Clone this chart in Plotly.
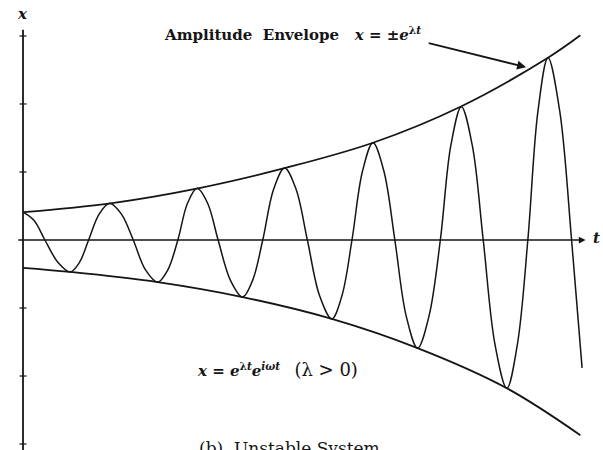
import plotly.graph_objects as go

# ---- data (t in periods, x in tick units) ----
osc_t = [0.00, 0.125, 0.25, 0.40, 0.54, 0.645, 0.75, 0.87, 0.99, 1.125, 1.26, 1.40,
         1.54, 1.655, 1.77, 1.88, 1.99, 2.11, 2.23, 2.37, 2.51, 2.625, 2.74, 2.865,
         2.99, 3.12, 3.25, 3.39, 3.53, 3.645, 3.76, 3.88, 4.00, 4.125, 4.25, 4.38,
         4.51, 4.64, 4.77, 4.89, 5.01, 5.135, 5.26, 5.395, 5.53, 5.65, 5.77, 5.885,
         6.00, 6.135, 6.27, 6.39]
osc_x = [0.41, 0.29, 0.00, -0.33, -0.47, -0.33, 0.00, 0.38, 0.54, 0.38, 0.00, -0.44,
         -0.62, -0.44, 0.00, 0.54, 0.76, 0.54, 0.00, -0.59, -0.84, -0.59, 0.00, 0.75,
         1.06, 0.75, 0.00, -0.82, -1.16, -0.82, 0.00, 1.01, 1.43, 1.01, 0.00, -1.12,
         -1.59, -1.12, 0.00, 1.39, 1.96, 1.39, 0.00, -1.54, -2.18, -1.54, 0.00, 1.89,
         2.68, 1.89, 0.00, -1.88]

env_up_t = [0.00, 1.00, 2.00, 3.00, 4.00, 5.00, 6.00, 6.37]
env_up_x = [0.41, 0.54, 0.76, 1.06, 1.43, 1.96, 2.68, 3.01]
env_lo_t = [0.00, 0.54, 1.54, 2.51, 3.53, 4.51, 5.53, 6.37]
env_lo_x = [-0.41, -0.47, -0.62, -0.84, -1.16, -1.59, -2.18, -2.87]

tick_vals = [-3, -2, -1, 1, 2, 3]

INK = "#151515"
SERIF = "DejaVu Serif"

fig = go.Figure()
fig.add_trace(go.Scatter(x=env_up_t, y=env_up_x, mode="lines",
                         line=dict(color=INK, width=1.8, shape="spline", smoothing=1.0),
                         hoverinfo="skip", showlegend=False))
fig.add_trace(go.Scatter(x=env_lo_t, y=env_lo_x, mode="lines",
                         line=dict(color=INK, width=1.8, shape="spline", smoothing=1.0),
                         hoverinfo="skip", showlegend=False))
fig.add_trace(go.Scatter(x=osc_t, y=osc_x, mode="lines",
                         line=dict(color=INK, width=1.5, shape="spline", smoothing=1.0),
                         hoverinfo="skip", showlegend=False))
# y-axis tick marks
fig.add_trace(go.Scatter(x=[0] * len(tick_vals), y=tick_vals, mode="markers",
                         marker=dict(symbol="line-ew", size=5, line=dict(color=INK, width=1.2)),
                         hoverinfo="skip", showlegend=False))

# axes
fig.add_shape(type="line", x0=0, x1=0, y0=-3.1, y1=3.09, line=dict(color=INK, width=1.8))
fig.add_annotation(x=6.43, y=0, ax=-0.07, ay=0, xref="x", yref="y", axref="x", ayref="y",
                   text="", showarrow=True, arrowhead=2, arrowsize=0.9, arrowwidth=1.5,
                   arrowcolor=INK)

# envelope pointer arrow
fig.add_annotation(x=5.75, y=2.54, ax=4.62, ay=2.90, xref="x", yref="y", axref="x", ayref="y",
                   text="", showarrow=True, arrowhead=2, arrowsize=1.0, arrowwidth=1.8,
                   arrowcolor=INK)

fig.add_annotation(x=-0.01, y=3.32, xref="x", yref="y", showarrow=False,
                   text="<b><i>x</i></b>", font=dict(family=SERIF, size=15, color=INK))
fig.add_annotation(x=6.56, y=0.03, xref="x", yref="y", showarrow=False,
                   text="<b><i>t</i></b>", font=dict(family=SERIF, size=15, color=INK))

NB = "\u00a0"
fig.add_annotation(x=1.59, y=3.03, xref="x", yref="y", xanchor="left", yanchor="middle",
                   showarrow=False,
                   text="<b>Amplitude" + NB * 2 + "Envelope" + NB * 3 +
                        "<i>x</i> = ±<i>e</i><sup>λ<i>t</i></sup></b>",
                   font=dict(family=SERIF, size=15, color=INK))
fig.add_annotation(x=1.966, y=-1.91, xref="x", yref="y", xanchor="left", yanchor="middle",
                   showarrow=False,
                   text="<b><i>x</i> = <i>e</i><sup>λ<i>t</i></sup><i>e</i><sup><i>iωt</i></sup></b>"
                        + NB * 3 + "<span style='font-size:18px'>(λ > 0)</span>",
                   font=dict(family=SERIF, size=15, color=INK))
fig.add_annotation(x=1.99, y=-2.88, xref="x", yref="y", xanchor="left", yanchor="top",
                   showarrow=False,
                   text="(b)" + NB * 2 + "Unstable System",
                   font=dict(family=SERIF, size=17, color=INK))

fig.update_layout(
    width=603, height=450,
    margin=dict(l=0, r=0, t=0, b=0, autoexpand=False),
    paper_bgcolor="white", plot_bgcolor="white",
    xaxis=dict(range=[-0.263, 6.629], visible=False),
    yaxis=dict(range=[-3.088, 3.529], visible=False),
    showlegend=False,
)
fig.write_html("out.html",
               config={"displayModeBar": False, "staticPlot": True},
               post_script="document.body.style.margin='0';document.body.style.overflow='hidden';")
